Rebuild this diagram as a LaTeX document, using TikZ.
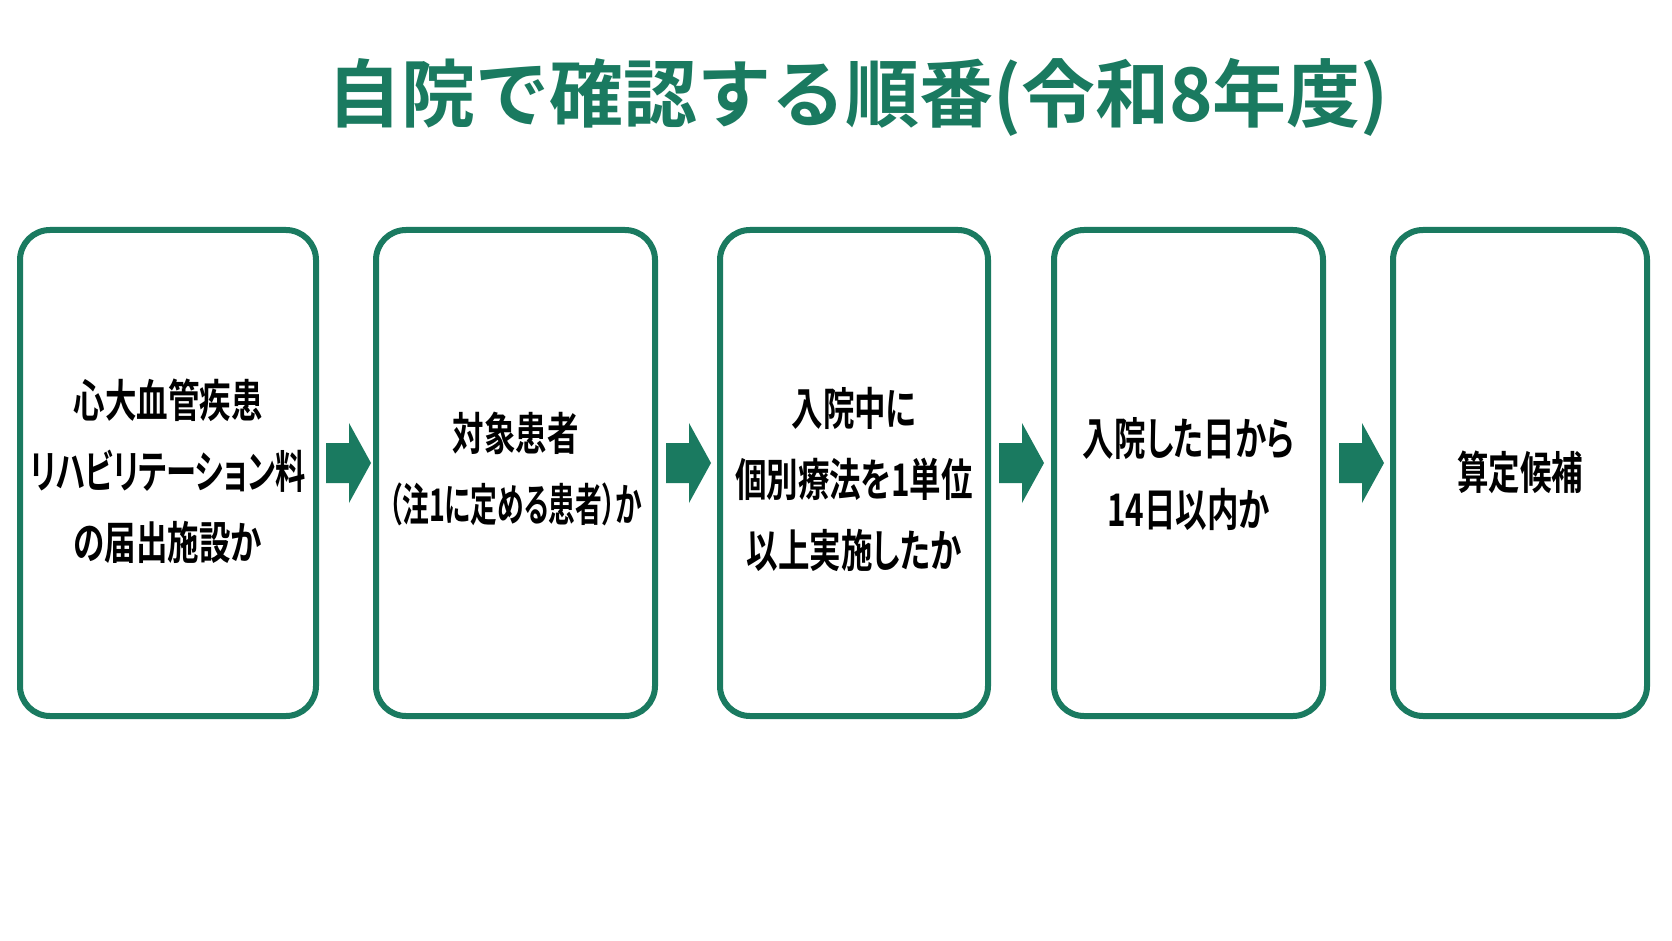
\documentclass[tikz,border=0pt]{standalone}
\usepackage{fontspec}
\newfontfamily\jpb[BoldFont=* Bold,FakeStretch=0.7,RawFeature={+palt}]{Noto Sans CJK JP}
\newfontfamily\jpt[BoldFont=* Bold]{Noto Sans CJK JP}
\definecolor{gr}{RGB}{26,122,96}
\begin{document}
\begin{tikzpicture}[x=1pt,y=-1pt,
  stepbox/.style={draw=gr,line width=6pt,rounded corners=30pt,fill=white},
  boxtext/.style={align=center,font=\jpb\bfseries\fontsize{45}{71}\selectfont,text=black,inner sep=0pt},
  arr/.style={fill=gr,draw=none}]
\useasboundingbox[fill=white] (0,0) rectangle (1672,941);
\node[font=\jpt\bfseries\fontsize{74}{80}\selectfont,text=gr,inner sep=0pt] (title) at (858,97) {自院で確認する順番(令和8年度)};
% boxes
\draw[stepbox] (20,230) rectangle (316,716);
\coordinate (b1) at (168,473);
\draw[stepbox] (376,230) rectangle (655,716);
\coordinate (b2) at (515.5,473);
\draw[stepbox] (720,230) rectangle (988,716);
\coordinate (b3) at (854,473);
\draw[stepbox] (1054,230) rectangle (1323,716);
\coordinate (b4) at (1188.5,473);
\draw[stepbox] (1393,230) rectangle (1647,716);
\coordinate (b5) at (1520,473);
\node[boxtext] (t1) at (168,471) {心大血管疾患\\\scalebox{0.96}[1]{リハビリテーション料}\\の届出施設か};
\node[boxtext] (t2) at (515.5,469) {対象患者\\\scalebox{0.85}[1]{（注1に定める患者）か}};
\node[boxtext] (t3) at (854,479) {入院中に\\個別療法を1単位\\以上実施したか};
\node[boxtext] (t4) at (1188.5,474) {入院した日から\\14日以内か};
\node[boxtext] (t5) at (1520,472) {算定候補};
% arrows
\foreach \s in {326,666,999,1339}{
  \fill[gr] (\s,443) -- ++(23,0) -- ++(0,-20) -- ++(22,40) -- ++(-22,40) -- ++(0,-20) -- ++(-23,0) -- cycle;
}
\end{tikzpicture}
\end{document}
